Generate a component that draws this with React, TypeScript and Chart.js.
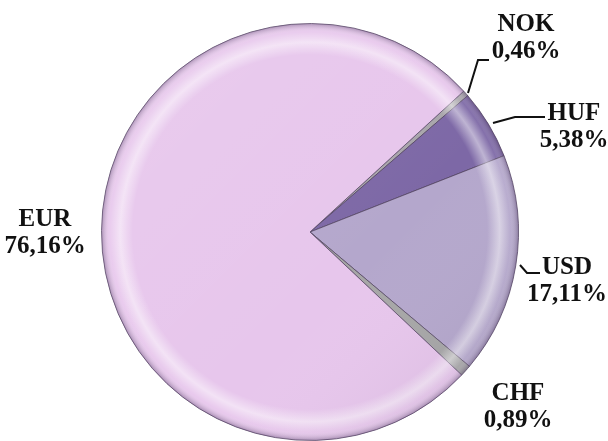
import React, { useEffect, useRef } from "react";
import { Chart, registerables } from "chart.js";

Chart.register(...registerables);

const categories = ["NOK", "HUF", "USD", "CHF", "EUR"];
const shares = [0.46, 5.38, 17.11, 0.89, 76.16];
const shareLabels = ["0,46%", "5,38%", "17,11%", "0,89%", "76,16%"];
const sliceColors = ["#a9a6ab", "#7d68a6", "#b4a7cc", "#a6a6a6", "#e7c6ec"];

// label placement (text centre x, first-line centre y) and optional leader polyline
const labelPos: Record<string, { x: number; y: number; leader?: number[][] }> = {
  NOK: { x: 526, y: 25, leader: [[468, 93], [478, 60], [489, 60]] },
  HUF: { x: 574, y: 114, leader: [[493, 123], [515, 117], [545, 117]] },
  USD: { x: 567, y: 268, leader: [[520, 265], [527, 273], [540, 273]] },
  CHF: { x: 518, y: 394 },
  EUR: { x: 45, y: 220 },
};

const bevelPlugin = {
  id: "bevel",
  afterDatasetsDraw(chart: any) {
    const ctx = chart.ctx as CanvasRenderingContext2D;
    const meta = chart.getDatasetMeta(0);
    meta.data.forEach((arc: any) => {
      const { x, y, outerRadius: r, startAngle, endAngle } = arc;
      ctx.save();
      ctx.beginPath();
      ctx.moveTo(x, y);
      ctx.arc(x, y, r, startAngle, endAngle);
      ctx.closePath();
      ctx.clip();
      const g = ctx.createRadialGradient(x, y, 0, x, y, r);
      g.addColorStop(0, "rgba(255,255,255,0)");
      g.addColorStop(0.85, "rgba(255,255,255,0)");
      g.addColorStop(0.91, "rgba(255,255,255,0.5)");
      g.addColorStop(0.96, "rgba(255,255,255,0.05)");
      g.addColorStop(1, "rgba(70,50,90,0.4)");
      ctx.fillStyle = g;
      ctx.fillRect(x - r, y - r, 2 * r, 2 * r);
      const lg = ctx.createLinearGradient(x - r, y - r, x + r, y + r);
      lg.addColorStop(0, "rgba(255,255,255,0.1)");
      lg.addColorStop(0.6, "rgba(255,255,255,0)");
      lg.addColorStop(1, "rgba(60,40,80,0.15)");
      ctx.fillStyle = lg;
      ctx.fillRect(x - r, y - r, 2 * r, 2 * r);
      ctx.restore();
    });
  },
};

const labelPlugin = {
  id: "sliceLabels",
  afterDraw(chart: any) {
    const ctx = chart.ctx as CanvasRenderingContext2D;
    ctx.save();
    ctx.fillStyle = "#111";
    ctx.strokeStyle = "#111";
    ctx.lineWidth = 2;
    ctx.font = "bold 25px 'Liberation Serif', 'DejaVu Serif', serif";
    ctx.textAlign = "center";
    ctx.textBaseline = "middle";
    categories.forEach((c, i) => {
      const p = labelPos[c];
      if (!p) return;
      if (p.leader) {
        ctx.beginPath();
        p.leader.forEach((pt, k) => (k === 0 ? ctx.moveTo(pt[0], pt[1]) : ctx.lineTo(pt[0], pt[1])));
        ctx.stroke();
      }
      ctx.fillText(c, p.x, p.y);
      ctx.fillText(shareLabels[i], p.x, p.y + 27);
    });
    ctx.restore();
  },
};

export default function App() {
  const ref = useRef<HTMLCanvasElement>(null);
  useEffect(() => {
    if (!ref.current) return;
    const chart = new Chart(ref.current, {
      type: "pie",
      data: {
        labels: categories,
        datasets: [
          {
            data: shares,
            backgroundColor: sliceColors,
            borderColor: "rgba(80,65,95,0.75)",
            borderWidth: 1,
          },
        ],
      },
      options: {
        responsive: false,
        animation: false,
        rotation: 47.5,
        layout: { padding: { left: 101, right: 89, top: 23, bottom: 0 } },
        plugins: {
          legend: { display: false },
          tooltip: { enabled: false },
        },
      },
      plugins: [bevelPlugin, labelPlugin],
    });
    return () => chart.destroy();
  }, []);
  return (
    <div style={{ position: "fixed", left: 0, top: 0, width: 608, height: 441, background: "#fff" }}>
      <canvas ref={ref} width={608} height={441} />
    </div>
  );
}
